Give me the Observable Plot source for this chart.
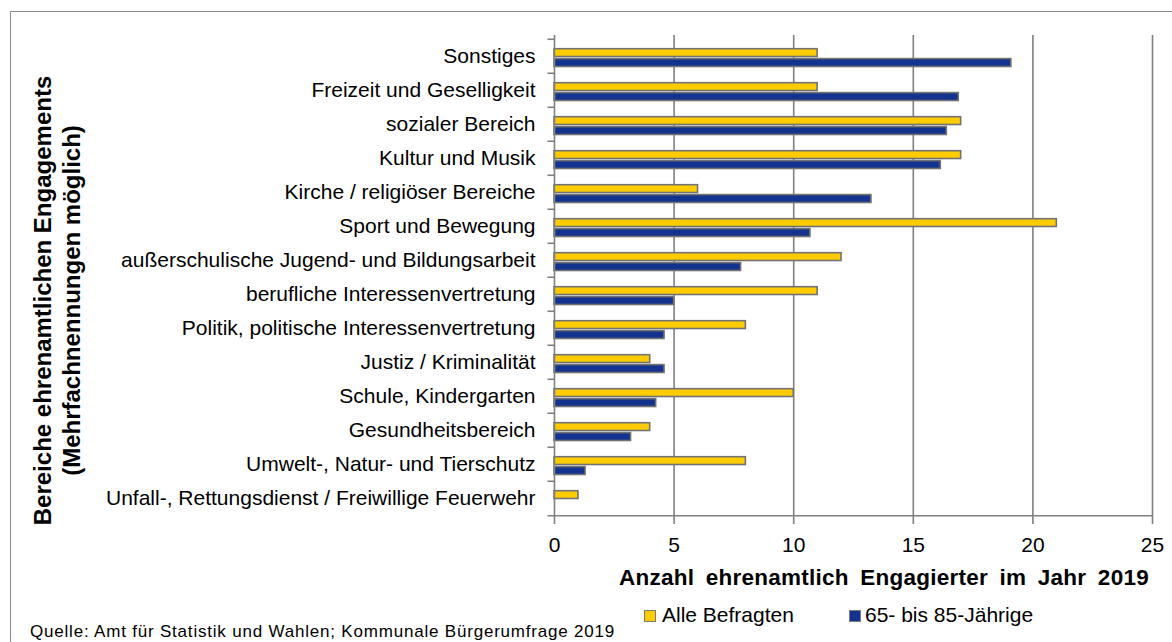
<!DOCTYPE html>
<html>
<head>
<meta charset="utf-8">
<script src="https://cdn.jsdelivr.net/npm/d3@7"></script>
<script src="https://cdn.jsdelivr.net/npm/@observablehq/plot@0.6"></script>
<style>
  html, body { margin: 0; padding: 0; background: #fff; }
  #page { position: relative; width: 1172px; height: 642px; overflow: hidden; font-family: Arial, "Liberation Sans", sans-serif; color: #000; }
  #border { position: absolute; left: 10px; top: 11px; width: 1300px; height: 800px; border: 1.5px solid #8a8a8a; box-sizing: border-box; }
  #chart { position: absolute; left: 0; top: 0; }
  .abs { position: absolute; white-space: nowrap; }
  #ytitle { left: -192.6px; top: 271.5px; width: 500px; height: 57px; font-size: 24px; font-weight: bold; line-height: 28.5px; text-align: center; transform: rotate(-90deg); }
  #xtitle { left: 619px; top: 566.5px; font-size: 22.5px; line-height: 22.5px; font-weight: bold; word-spacing: 5px; letter-spacing: 0.25px; }
  .leg { top: 604px; font-size: 21px; line-height: 21px; }
  .sw { position: absolute; width: 12px; height: 12px; box-sizing: border-box; border: 1.5px solid #7a7a7a; }
  #caption { left: 30px; top: 622.6px; font-size: 17px; line-height: 17px; letter-spacing: 0.8px; }
</style>
</head>
<body>
<div id="page">
  <div id="border"></div>
  <div id="chart"></div>
  <div id="ytitle" class="abs"></div>
  <div id="xtitle" class="abs"></div>
  <div id="legend"></div>
  <div id="caption" class="abs"></div>
</div>
<script>
const categories = [
  "Sonstiges",
  "Freizeit und Geselligkeit",
  "sozialer Bereich",
  "Kultur und Musik",
  "Kirche / religiöser Bereiche",
  "Sport und Bewegung",
  "außerschulische Jugend- und Bildungsarbeit",
  "berufliche Interessenvertretung",
  "Politik, politische Interessenvertretung",
  "Justiz / Kriminalität",
  "Schule, Kindergarten",
  "Gesundheitsbereich",
  "Umwelt-, Natur- und Tierschutz",
  "Unfall-, Rettungsdienst / Freiwillige Feuerwehr"
];
const alleBefragten = [11, 11, 17, 17, 6, 21, 12, 11, 8, 4, 10, 4, 8, 1];
const senioren65bis85 = [19.1, 16.9, 16.4, 16.15, 13.25, 10.7, 7.8, 5.0, 4.6, 4.6, 4.25, 3.2, 1.3, 0];
const seriesNames = ["Alle Befragten", "65- bis 85-Jährige"];
const seriesColors = ["#FFCC00", "#13338F"];
const xTicks = [0, 5, 10, 15, 20, 25];
const xTitle = "Anzahl ehrenamtlich Engagierter im Jahr 2019";
const yTitleLines = ["Bereiche ehrenamtlichen Engagements", "(Mehrfachnennungen möglich)"];
const captionText = "Quelle: Amt für Statistik und Wahlen; Kommunale Bürgerumfrage 2019";

const rows = categories.flatMap((c, i) => [
  {cat: c, series: seriesNames[0], value: alleBefragten[i]},
  {cat: c, series: seriesNames[1], value: senioren65bis85[i]}
]);

const W = 1172, H = 560, mT = 35, mB = 42, mL = 554, mR = 20;
const step = (H - mT - mB) / categories.length;
const gray = "#808080";
const barStroke = "#727272";

const chart = Plot.plot({
  width: W,
  height: H,
  marginTop: mT,
  marginBottom: mB,
  marginLeft: mL,
  marginRight: mR,
  style: {fontFamily: "Arial, 'Liberation Sans', sans-serif", fontSize: "21px", color: "black", background: "transparent", overflow: "visible"},
  x: {domain: [xTicks[0], xTicks[xTicks.length - 1]]},
  y: {domain: categories, padding: 0},
  marks: [
    Plot.ruleX(xTicks.filter(t => t > 0), {stroke: gray, strokeWidth: 1.6}),
    Plot.barX(rows.filter(d => d.series === seriesNames[0]), {
      y: "cat", x: "value", fill: seriesColors[0], stroke: barStroke, strokeWidth: 1.6,
      insetTop: 9.7, insetBottom: 16.5
    }),
    Plot.barX(rows.filter(d => d.series === seriesNames[1] && d.value > 0), {
      y: "cat", x: "value", fill: seriesColors[1], stroke: barStroke, strokeWidth: 1.6,
      insetTop: 19.6, insetBottom: 6.5
    }),
    Plot.ruleX([xTicks[0]], {stroke: gray, strokeWidth: 1.6}),
    Plot.ruleY(categories, {y: d => d, dy: -step / 2, x1: xTicks[0], x2: xTicks[0], insetLeft: -6.5, stroke: gray, strokeWidth: 1.6}),
    Plot.ruleY(categories.slice(-1), {y: d => d, dy: step / 2, insetLeft: -6.5, stroke: gray, strokeWidth: 1.6}),
    Plot.axisX({ticks: xTicks, tickSize: 6, tickPadding: 13, stroke: gray, strokeWidth: 1.6, fill: "black", fontSize: 21, label: null}),
    Plot.axisY({tickSize: 0, tickPadding: 19, fill: "black", fontSize: 21, label: null})
  ]
});
document.getElementById("chart").appendChild(chart);

document.getElementById("ytitle").innerHTML = yTitleLines.join("<br>");
document.getElementById("xtitle").textContent = xTitle;
document.getElementById("caption").textContent = captionText;

const legend = document.getElementById("legend");
const legendPos = [{sw: 644, tx: 662}, {sw: 849, tx: 865}];
seriesNames.forEach((name, i) => {
  const sw = document.createElement("div");
  sw.className = "sw";
  sw.style.left = legendPos[i].sw + "px";
  sw.style.top = "609.5px";
  sw.style.background = seriesColors[i];
  legend.appendChild(sw);
  const t = document.createElement("div");
  t.className = "abs leg";
  t.style.left = legendPos[i].tx + "px";
  t.textContent = name;
  legend.appendChild(t);
});
</script>
</body>
</html>
